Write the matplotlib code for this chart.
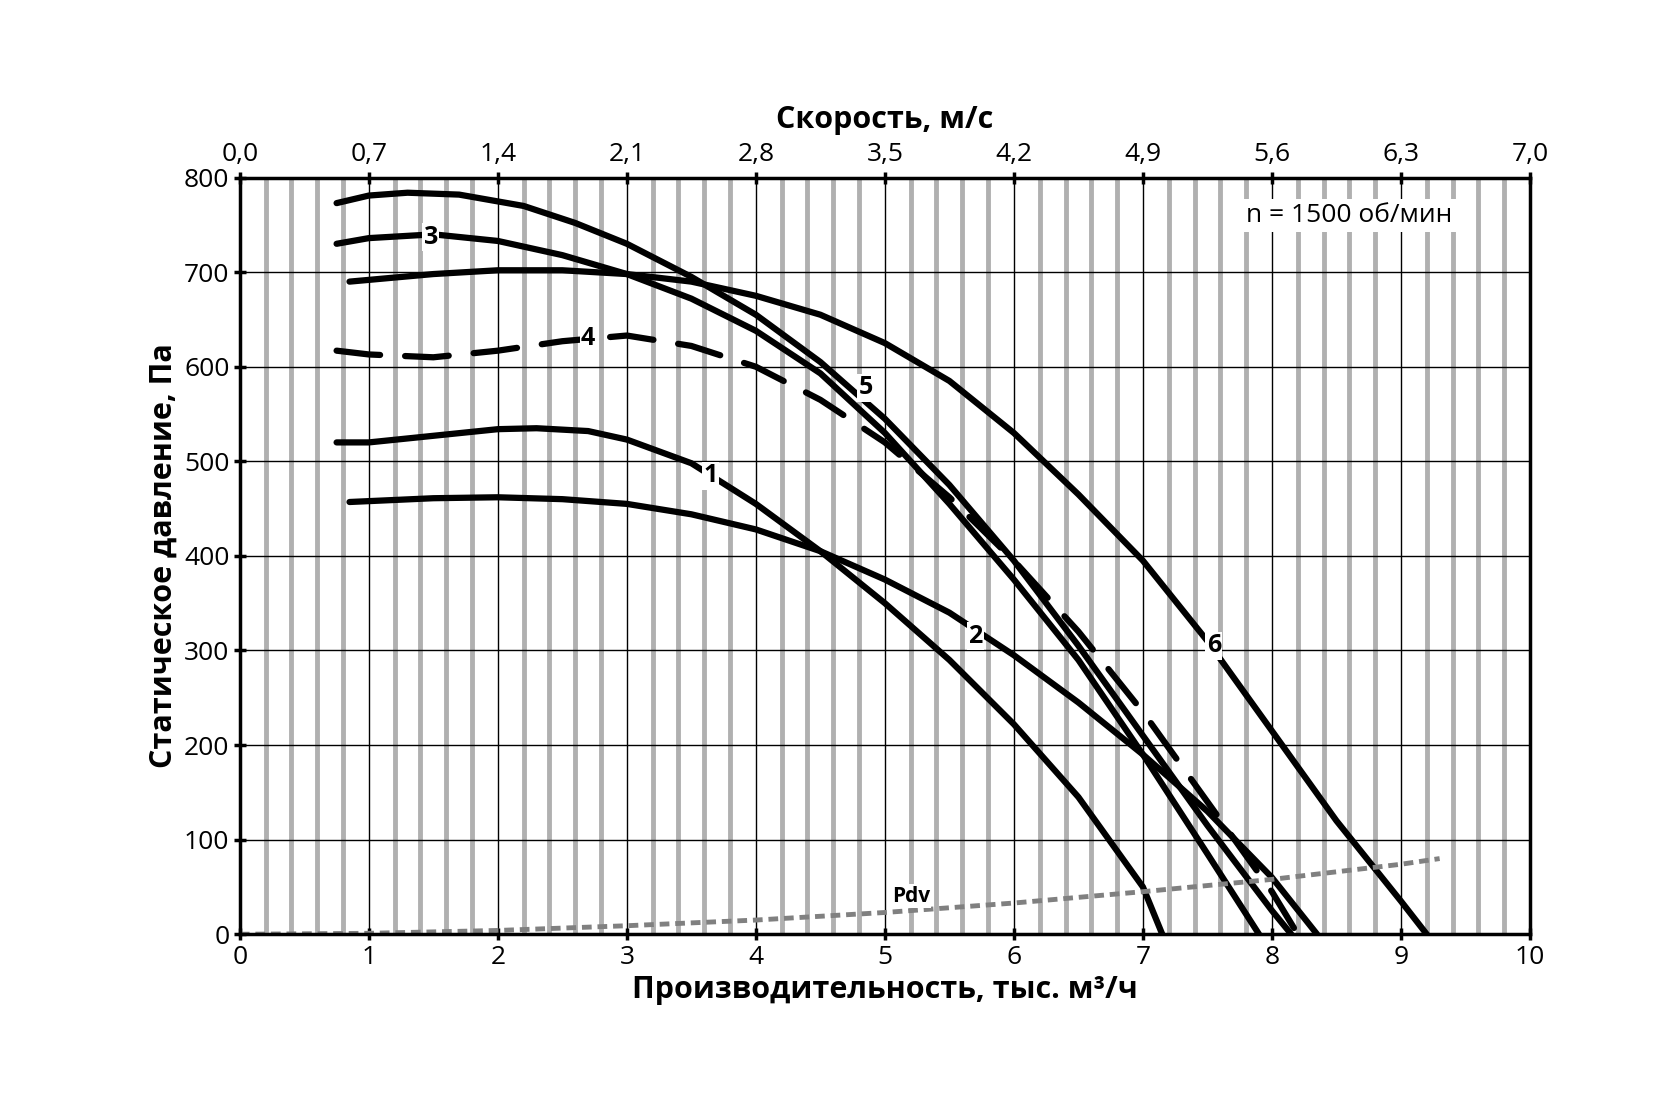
import matplotlib
matplotlib.use("Agg")
import matplotlib.pyplot as plt
import numpy as np

plt.rcParams['font.family'] = ['Open Sans', 'DejaVu Sans']

q_top = [0.75, 1.0, 1.3, 1.7, 2.2, 2.6, 3.0, 3.5, 4.0, 4.5, 5.0, 5.5, 6.0, 6.5, 7.0, 7.5, 8.0, 8.15]
p_top = [773, 781, 784, 782, 770, 752, 730, 695, 655, 605, 545, 475, 395, 305, 210, 115, 25, 0]
q_3 = [0.75, 1.0, 1.5, 2.0, 2.5, 3.0, 3.5, 4.0, 4.5, 5.0, 5.5, 6.0, 6.5, 7.0, 7.5, 7.9]
p_3 = [730, 736, 740, 733, 718, 698, 672, 638, 593, 530, 455, 375, 290, 190, 85, 0]
q_6 = [0.85, 1.5, 2.0, 2.5, 3.0, 3.5, 4.0, 4.5, 5.0, 5.5, 6.0, 6.5, 7.0, 7.5, 8.0, 8.5, 9.0, 9.2]
p_6 = [690, 698, 702, 702, 698, 690, 675, 655, 625, 585, 530, 465, 395, 310, 215, 120, 35, 0]
q_4 = [0.75, 1.0, 1.5, 2.0, 2.5, 3.0, 3.5, 4.0, 4.5, 5.0, 5.5, 6.0, 6.5, 7.0, 7.5, 8.0, 8.2]
p_4 = [617, 613, 610, 617, 627, 633, 622, 600, 565, 520, 462, 395, 320, 235, 140, 45, 0]
q_1 = [0.75, 1.0, 1.5, 2.0, 2.3, 2.7, 3.0, 3.5, 4.0, 4.5, 5.0, 5.5, 6.0, 6.5, 7.0, 7.15]
p_1 = [520, 520, 527, 534, 535, 532, 523, 498, 455, 405, 350, 290, 222, 145, 50, 0]
q_2 = [0.85, 1.5, 2.0, 2.5, 3.0, 3.5, 4.0, 4.5, 5.0, 5.5, 6.0, 6.5, 7.0, 7.5, 8.0, 8.35]
p_2 = [457, 461, 462, 460, 455, 444, 428, 405, 375, 340, 295, 245, 190, 130, 60, 0]
q_pdv = [0, 1, 2, 3, 4, 5, 6, 7, 8, 9, 9.3]
p_pdv = [0, 1, 4, 9, 15, 23, 33, 45, 58, 74, 80]
speed_labels = ['0,0', '0,7', '1,4', '2,1', '2,8', '3,5', '4,2', '4,9', '5,6', '6,3', '7,0']

fig = plt.figure(figsize=(16.54, 11.03), dpi=100)
ax = fig.add_axes([0.145, 0.153, 0.78, 0.686])
ax.set_xlim(0, 10)
ax.set_ylim(0, 800)
for x in np.arange(0.2, 10, 0.2):
    if abs(x - round(x)) > 1e-6:
        ax.axvline(x, color='#b0b0b0', lw=3.5, zorder=0)
for x in range(1, 10):
    ax.axvline(x, color='black', lw=1, zorder=1)
for y in range(100, 800, 100):
    ax.axhline(y, color='black', lw=1, zorder=1)

lw = 4.5
ax.plot(q_top, p_top, color='black', lw=lw, solid_capstyle='round')
ax.plot(q_3, p_3, color='black', lw=lw, solid_capstyle='round')
ax.plot(q_6, p_6, color='black', lw=lw, solid_capstyle='round')
ax.plot(q_4, p_4, color='black', lw=lw, dashes=(7, 4), dash_capstyle='round')
ax.plot(q_1, p_1, color='black', lw=lw, solid_capstyle='round')
ax.plot(q_2, p_2, color='black', lw=lw, solid_capstyle='round')
ax.plot(q_pdv, p_pdv, color='#808080', lw=3.5, dashes=(2, 1.2))

bb = dict(facecolor='white', edgecolor='none', pad=1)
for (x, y, t) in [(1.48, 737, '3'), (2.7, 630, '4'), (4.85, 578, '5'), (3.65, 485, '1'),
                  (5.7, 315, '2'), (7.55, 305, '6')]:
    ax.text(x, y, t, fontsize=18, fontweight='bold', ha='center', va='center', bbox=bb, zorder=5)
ax.text(5.2, 40, 'Pdv', fontsize=15, fontweight='bold', ha='center', va='center', bbox=bb, zorder=5)
ax.text(8.6, 760, 'n = 1500 об/мин', fontsize=19, ha='center', va='center', bbox=dict(facecolor='white', edgecolor='none', pad=3), zorder=5)

for s in ax.spines.values():
    s.set_linewidth(2.5)
ax.set_xticks(range(0, 11))
ax.set_yticks(range(0, 801, 100))
ax.tick_params(labelsize=19, width=2.5, length=8, direction='inout')
ax.set_xlabel('Производительность, тыс. м³/ч', fontsize=22, fontweight='bold')
ax.set_ylabel('Статическое давление, Па', fontsize=22, fontweight='bold')

ax2 = ax.twiny()
ax2.set_xlim(0, 10)
ax2.set_xticks(range(0, 11))
ax2.set_xticklabels(speed_labels)
ax2.tick_params(labelsize=19, width=2.5, length=8, direction='inout')
ax2.set_xlabel('Скорость, м/с', fontsize=22, fontweight='bold', labelpad=10)

fig.savefig('out.png', dpi=100, facecolor='white')
